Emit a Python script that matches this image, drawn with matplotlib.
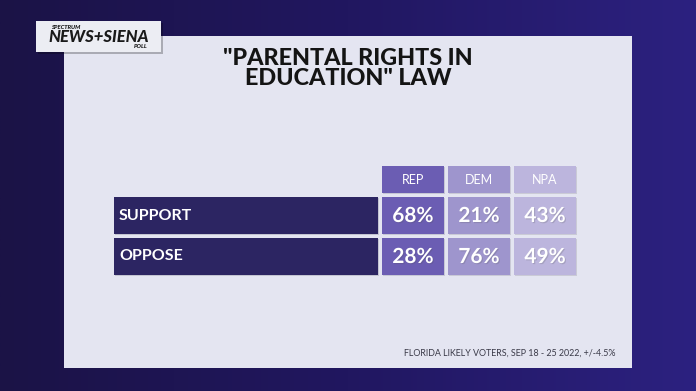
import numpy as np
import matplotlib.pyplot as plt
from matplotlib.patches import Rectangle
from matplotlib.colors import LinearSegmentedColormap
import matplotlib.patheffects as pe

# data
title = '"PARENTAL RIGHTS IN\nEDUCATION" LAW'
groups = ["REP", "DEM", "NPA"]
rows = ["SUPPORT", "OPPOSE"]
support = [68, 21, 43]
oppose = [28, 76, 49]
footnote = "FLORIDA LIKELY VOTERS, SEP 18 - 25 2022, +/-4.5%"

group_colors = ["#6b5db3", "#9e95cd", "#bcb5dd"]
row_color = "#2c2562"

plt.rcParams['font.family'] = ['Lato', 'DejaVu Sans']

fig = plt.figure(figsize=(6.96, 3.91), dpi=100)
ax = fig.add_axes([0, 0, 1, 1])
ax.set_xlim(0, 696)
ax.set_ylim(391, 0)
ax.axis('off')

# background gradient, dark left -> brighter purple right
grad = np.linspace(0, 1, 256).reshape(1, -1)
bg = LinearSegmentedColormap.from_list("bg", ["#1b1346", "#211760", "#2c2180"])
ax.imshow(grad, extent=[0, 696, 391, 0], aspect='auto', cmap=bg, zorder=0)

# main panel
ax.add_patch(Rectangle((64, 36), 568, 332, facecolor="#e4e5f1", edgecolor="none", zorder=1))

# logo box
ax.add_patch(Rectangle((38, 23), 125, 31, facecolor="#000000", alpha=0.25, edgecolor="none", zorder=2))
ax.add_patch(Rectangle((36, 21), 125, 31, facecolor="#ecedf3", edgecolor="none", zorder=3))
ax.text(51, 27.5, "SPECTRUM", fontsize=4.2, fontweight='black', style='italic', color="#1a1a1a",
        va='center', ha='left', zorder=4)
ax.text(48, 37, "NEWS+SIENA", fontsize=12, fontweight='black', style='italic', color="#1a1a1a",
        va='center', ha='left', zorder=4)
ax.text(148, 46, "POLL", fontsize=4.2, fontweight='black', style='italic', color="#1a1a1a",
        va='center', ha='right', zorder=4)

# title
ax.text(348, 68.5, title, fontsize=16.8, fontweight='black', color="#141414", ha='center', va='center',
        linespacing=0.98, zorder=4)

# table geometry
col_x = [382, 448, 514]
col_w = 62
head_y, head_h = 166, 27
row_y = [197, 238]
row_h = 37
label_x, label_w = 114, 264

shadow = [pe.withSimplePatchShadow(offset=(1, -1), alpha=0.15)]

for gx, g, c in zip(col_x, groups, group_colors):
    ax.add_patch(Rectangle((gx, head_y), col_w, head_h, facecolor=c, edgecolor="none", zorder=3,
                           path_effects=shadow))
    ax.text(gx + col_w / 2, head_y + head_h / 2 + 0.5, g, fontsize=9, fontweight='normal', color="white",
            ha='center', va='center', zorder=4)

for ry, name, vals in zip(row_y, rows, [support, oppose]):
    ax.add_patch(Rectangle((label_x, ry), label_w, row_h, facecolor=row_color, edgecolor="none", zorder=3,
                           path_effects=shadow))
    ax.text(label_x + 5, ry + row_h / 2, name, fontsize=11.5, fontweight='bold', color="white",
            ha='left', va='center', zorder=4)
    for gx, v, c in zip(col_x, vals, group_colors):
        ax.add_patch(Rectangle((gx, ry), col_w, row_h, facecolor=c, edgecolor="none", zorder=3,
                               path_effects=shadow))
        t = ax.text(gx + col_w / 2, ry + row_h / 2 + 0.5, f"{v}%", fontsize=15, fontweight='bold',
                    color="white", ha='center', va='center', zorder=4)
        t.set_path_effects([pe.SimplePatchShadow(offset=(0.8, -0.8), alpha=0.2), pe.Normal()])

# footnote
ax.text(615, 353, footnote, fontsize=6.4, color="#3a3a48", ha='right', va='center', zorder=4)

fig.savefig("out.png", dpi=100)
